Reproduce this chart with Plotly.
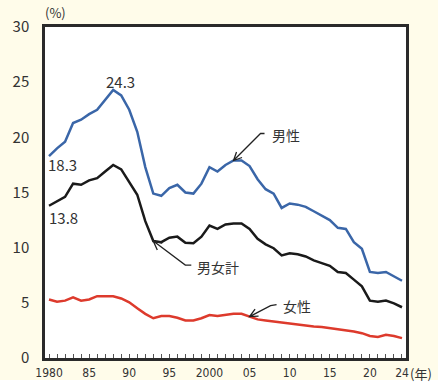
import plotly.graph_objects as go

years = list(range(1980, 2025))

male = [18.3, 19.0, 19.6, 21.3, 21.6, 22.1, 22.5, 23.4, 24.3, 23.8,
        22.5, 20.5, 17.3, 14.9, 14.7, 15.4, 15.7, 15.0, 14.9, 15.8,
        17.3, 16.9, 17.5, 17.9, 17.9, 17.4, 16.2, 15.3, 14.9, 13.6,
        14.0, 13.9, 13.7, 13.3, 12.9, 12.5, 11.8, 11.7, 10.5, 9.9,
        7.8, 7.7, 7.8, 7.4, 7.0]

total = [13.8, 14.2, 14.6, 15.8, 15.7, 16.1, 16.3, 16.9, 17.5, 17.1,
         16.0, 14.8, 12.4, 10.6, 10.5, 10.9, 11.0, 10.45, 10.4, 11.0,
         12.0, 11.7, 12.1, 12.2, 12.2, 11.7, 10.8, 10.3, 9.95, 9.3,
         9.5, 9.4, 9.2, 8.85, 8.6, 8.35, 7.8, 7.7, 7.1, 6.5,
         5.2, 5.1, 5.2, 4.95, 4.6]

female = [5.3, 5.1, 5.2, 5.5, 5.2, 5.3, 5.6, 5.6, 5.6, 5.4,
          5.05, 4.5, 4.0, 3.6, 3.8, 3.8, 3.65, 3.4, 3.4, 3.6,
          3.9, 3.8, 3.9, 4.0, 4.0, 3.75, 3.5, 3.4, 3.3, 3.2,
          3.15, 3.05, 2.95, 2.85, 2.8, 2.7, 2.6, 2.55, 2.4, 2.25,
          2.0, 1.9, 2.1, 2.0, 1.8]

xtick_vals = years
xtick_text = {1980: "1980", 1985: "85", 1990: "90", 1995: "95", 2000: "2000",
              2005: "05", 2010: "10", 2015: "15", 2020: "20", 2024: "24"}
ytick_vals = [0, 5, 10, 15, 20, 25, 30]

CREAM = "#fffcea"
TXT = "#333333"
NUM_FONT = "Noto Sans CJK JP, Noto Sans, sans-serif"
XFONT = "Liberation Sans Narrow, DejaVu Sans Condensed, sans-serif"

fig = go.Figure()
fig.add_trace(go.Scatter(x=years, y=female, mode="lines",
                         line=dict(color="#dd3a2c", width=2.5), name="女性"))
fig.add_trace(go.Scatter(x=years, y=total, mode="lines",
                         line=dict(color="#1a1a1a", width=2.5), name="男女計"))
fig.add_trace(go.Scatter(x=years, y=male, mode="lines",
                         line=dict(color="#3a66a8", width=2.5), name="男性"))

def idx(y):
    return years.index(y)

# arrows drawn as pixel-sized paths anchored at data points
def arrow(year, series, path):
    fig.add_shape(type="path", xref="x", yref="y", xsizemode="pixel", ysizemode="pixel",
                  xanchor=year, yanchor=series[idx(year)], path=path,
                  line=dict(color="#222222", width=1.3))

arrow(2003, male, "M 31 27 L 27 27 L 0 0 M 8.5 3 L 0 0 L 3 8.5")
arrow(1993, total, "M 38 -24 L 32 -24 L 0 0 M 9 -2 L 0 0 L 4 -9")
arrow(2005, female, "M 27 12 L 21 11 L 0 0 M 9 0.5 L 0 0 L 5.5 7.5")

ann = []
def label(year, series, text, xs, ys, xanchor="left", size=14, font=NUM_FONT):
    ann.append(dict(x=year, y=series[idx(year)], xref="x", yref="y", text=text,
                    showarrow=False, xanchor=xanchor, yanchor="middle",
                    xshift=xs, yshift=ys, font=dict(size=size, color=TXT, family=font)))

label(2003, male, "男性", 36, 26)
label(1993, total, "男女計", 42, -26)
label(2005, female, "女性", 31, 11)
label(1988, male, "24.3", 7, 8, xanchor="center", size=15)
label(1980, male, "18.3", -3, -8, size=15)
label(1980, total, "13.8", -2, -12, size=15)

ann.append(dict(x=0.0, y=1.0, xref="paper", yref="paper", text="(%)", showarrow=False,
                xanchor="left", yanchor="bottom", yshift=3, xshift=-2,
                font=dict(size=13, color=TXT, family=NUM_FONT)))
ann.append(dict(x=1.0, y=0, xref="paper", yref="paper", text="(年)", showarrow=False,
                xanchor="left", yanchor="top", yshift=-4, xshift=2,
                font=dict(size=13, color=TXT, family=NUM_FONT)))

fig.add_shape(type="rect", xref="paper", yref="paper", x0=-0.2, x1=1.2,
              y0=-0.0665, y1=-0.12, fillcolor="white", line=dict(width=0), layer="below")

fig.update_layout(
    width=438, height=389,
    margin=dict(l=45, r=32, t=27, b=31, autoexpand=False),
    paper_bgcolor=CREAM, plot_bgcolor="white",
    showlegend=False,
    annotations=ann,
    xaxis=dict(range=[1979.5, 2024.5], tickmode="array", tickvals=xtick_vals,
               ticktext=[xtick_text.get(y, "") for y in xtick_vals],
               ticks="inside", ticklen=4, tickwidth=1, tickcolor="#555555",
               showgrid=False, zeroline=False, showline=True, linecolor="#2a2a2a",
               linewidth=2.5, mirror=True, ticklabelstandoff=2, automargin=False,
               tickfont=dict(size=12, color=TXT, family=XFONT)),
    yaxis=dict(range=[0, 30], tickmode="array", tickvals=ytick_vals,
               ticks="", showgrid=False, zeroline=False, showline=True,
               linecolor="#2a2a2a", linewidth=2.5, mirror=True, ticklabelstandoff=10,
               automargin=False,
               tickfont=dict(size=15, color=TXT, family=NUM_FONT)),
)

fig.write_html("out.html", config={"displayModeBar": False},
               post_script="document.body.style.margin='0';document.body.style.padding='0';")
